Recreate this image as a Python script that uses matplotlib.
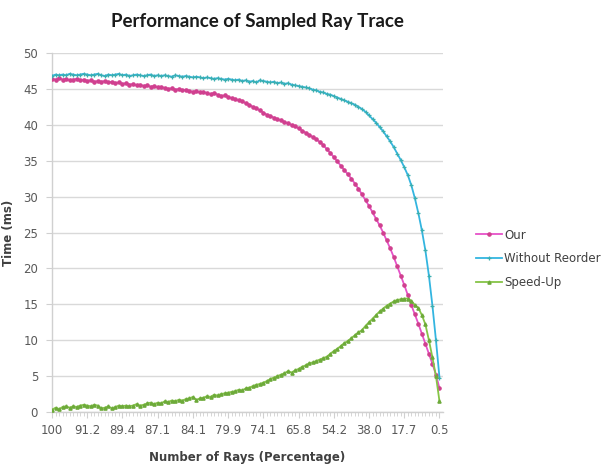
import matplotlib
matplotlib.use("Agg")
import matplotlib.pyplot as plt
from matplotlib.ticker import MultipleLocator, FixedLocator

tick_labels = ["100", "91.2", "89.4", "87.1", "84.1", "79.9", "74.1",
               "65.8", "54.2", "38.0", "17.7", "0.5"]

without_reorder = [
    46.8, 47.0, 46.9, 47.0, 46.9, 47.1, 47.0, 46.9, 47.0, 47.1,
    47.0, 46.9, 47.0, 47.1, 46.9, 46.8, 47.0, 46.9, 47.0, 47.1,
    46.9, 47.0, 46.8, 46.9, 47.0, 46.9, 46.8, 46.9, 47.0, 46.8,
    46.9, 46.8, 46.9, 46.8, 46.7, 46.9, 46.8, 46.7, 46.8, 46.7,
    46.6, 46.7, 46.6, 46.5, 46.6, 46.5, 46.4, 46.5, 46.4, 46.3,
    46.4, 46.3, 46.2, 46.3, 46.1, 46.2, 46.0, 46.1, 45.9, 46.2,
    46.1, 46.0, 45.9, 46.0, 45.8, 45.9, 45.7, 45.8, 45.6, 45.5,
    45.4, 45.3, 45.2, 45.1, 44.9, 44.8, 44.6, 44.5, 44.3, 44.2,
    44.0, 43.8, 43.6, 43.4, 43.2, 43.0, 42.8, 42.5, 42.2, 41.8,
    41.3, 40.8, 40.3, 39.7, 39.1, 38.4, 37.7, 36.9, 36.0, 35.1,
    34.1, 33.0, 31.6, 29.8, 27.7, 25.3, 22.5, 19.0, 14.8, 10.0, 4.8,
]

our = [
    46.4, 46.3, 46.5, 46.3, 46.4, 46.2, 46.3, 46.4, 46.2, 46.3,
    46.1, 46.2, 46.0, 46.1, 46.0, 46.1, 45.9, 46.0, 45.8, 45.9,
    45.7, 45.8, 45.6, 45.7, 45.5, 45.6, 45.4, 45.5, 45.3, 45.4,
    45.2, 45.3, 45.1, 45.0, 45.1, 44.9, 45.0, 44.8, 44.9, 44.7,
    44.6, 44.7, 44.5, 44.6, 44.4, 44.3, 44.4, 44.2, 44.0, 44.1,
    43.9, 43.7, 43.6, 43.4, 43.3, 43.0, 42.8, 42.5, 42.3, 42.0,
    41.7, 41.4, 41.2, 41.0, 40.8, 40.6, 40.4, 40.2, 40.0, 39.8,
    39.5, 39.2, 38.9, 38.6, 38.3, 38.0, 37.6, 37.2, 36.6, 36.1,
    35.5, 34.9, 34.3, 33.7, 33.1, 32.5, 31.8, 31.1, 30.3, 29.5,
    28.7, 27.8, 26.9, 26.0, 25.0, 23.9, 22.8, 21.6, 20.3, 19.0,
    17.7, 16.3, 14.9, 13.6, 12.3, 10.9, 9.5, 8.1, 6.7, 5.2, 3.3,
]

speed_up = [
    0.3, 0.6, 0.4, 0.7, 0.8, 0.6, 0.8, 0.7, 0.9, 1.0,
    0.9, 0.8, 1.0, 0.9, 0.5, 0.6, 0.8, 0.5, 0.7, 0.9,
    0.8, 0.9, 0.8, 0.9, 1.1, 0.9, 1.0, 1.2, 1.3, 1.1,
    1.3, 1.2, 1.5, 1.4, 1.6, 1.5, 1.7, 1.6, 1.8, 1.9,
    2.1, 1.7, 1.9, 2.0, 2.2, 2.1, 2.4, 2.3, 2.5, 2.6,
    2.7, 2.8, 2.9, 3.1, 3.0, 3.3, 3.4, 3.6, 3.8, 3.9,
    4.1, 4.3, 4.6, 4.8, 5.0, 5.2, 5.4, 5.7, 5.5, 5.8,
    6.0, 6.3, 6.5, 6.8, 6.9, 7.1, 7.3, 7.5, 7.7, 8.1,
    8.5, 8.8, 9.2, 9.6, 9.9, 10.3, 10.7, 11.1, 11.4, 12.0,
    12.5, 13.0, 13.5, 14.0, 14.4, 14.8, 15.1, 15.4, 15.6, 15.7,
    15.8, 15.8, 15.5, 14.9, 14.5, 13.5, 12.2, 10.0, 7.6, 5.0, 1.5,
]

label_step = 10
x = list(range(len(our)))

fig = plt.figure(figsize=(6.03, 4.70), dpi=100)
ax = fig.add_axes([52 / 603, 58 / 470, 391 / 603, 359 / 470])

ax.plot(x, our, color="#E652C8", lw=1.3, marker="o", ms=2.3,
        mfc="#D0408F", mec="#D0408F", label="Our", zorder=3)
ax.plot(x, without_reorder, color="#33B5E0", lw=1.3, marker="+", ms=3,
        mfc="#3BAFB0", mec="#3BAFB0", mew=0.9, label="Without Reorder", zorder=3)
ax.plot(x, speed_up, color="#86C447", lw=1.3, marker="^", ms=2.3,
        mfc="#6DAA3A", mec="#6DAA3A", label="Speed-Up", zorder=3)

ax.set_xlim(0, len(our))
ax.set_ylim(0, 50)
ax.yaxis.set_major_locator(MultipleLocator(5))
ax.set_xticks([i * label_step for i in range(len(tick_labels))])
ax.set_xticklabels(tick_labels)
ax.xaxis.set_minor_locator(FixedLocator(x))

ax.grid(axis="y", color="#D9D9D9", lw=1.0)
ax.set_axisbelow(True)
for s in ["top", "right"]:
    ax.spines[s].set_visible(False)
for s in ["left", "bottom"]:
    ax.spines[s].set_color("#D0D0D0")
    ax.spines[s].set_linewidth(1.0)

ax.tick_params(axis="y", which="major", length=4, color="#D0D0D0",
               labelsize=8.5, labelcolor="#595959", pad=6)
ax.tick_params(axis="x", which="major", length=4, color="#D0D0D0",
               labelsize=8.5, labelcolor="#595959", pad=5)
ax.tick_params(axis="x", which="minor", length=3, color="#D0D0D0")

ax.set_xlabel("Number of Rays (Percentage)", fontsize=8.5, fontweight="bold",
              color="#404040", labelpad=10)
ax.set_ylabel("Time (ms)", fontsize=8.5, fontweight="bold", color="#404040",
              labelpad=6)

fig.text(257 / 603, 1 - 21 / 470, "Performance of Sampled Ray Trace",
         ha="center", va="center", fontsize=13.5, fontweight="bold",
         family=["Lato", "DejaVu Sans"], color="#1a1a1a")

leg = ax.legend(loc="upper left", bbox_to_anchor=(465 / 603, 1 - 218 / 470),
                bbox_transform=fig.transFigure, frameon=False, fontsize=8.5,
                handlelength=2.2, handletextpad=0.2, labelspacing=0.9)
for t in leg.get_texts():
    t.set_color("#404040")

fig.savefig("out.png", dpi=100)
